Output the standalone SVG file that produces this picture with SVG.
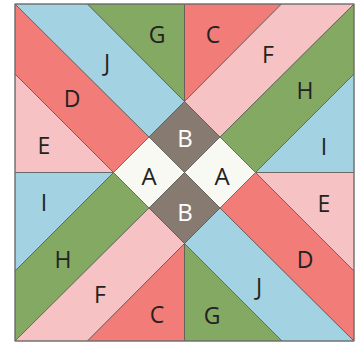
<svg xmlns="http://www.w3.org/2000/svg" width="361" height="343" viewBox="0 0 361 343">
<style>
.p{stroke:#5a5a55;stroke-width:0.8;stroke-linejoin:round}
.bl{fill:#a3d2e2}.gr{fill:#84a962}.rd{fill:#f27c78}.pk{fill:#f7c2c4}.br{fill:#877b71}.wh{fill:#f9f9f4}
text{font-family:"Open Sans","Noto Sans",sans-serif;font-size:23px;text-anchor:middle;fill:#222}
.c{font-size:24px}
.w{fill:#ffffff}
</style>
<rect x="0" y="0" width="361" height="343" fill="#ffffff"/>
<g id="top-left">
<polygon id="E1" class="p pk" points="15,74 113.5,172.5 15,172.5"/>
<polygon id="D1" class="p rd" points="15,4 149,137 113.5,172.5 15,74"/>
<polygon id="J1" class="p bl" points="15,4 87.5,4 184.5,101.5 149,137"/>
<polygon id="G1" class="p gr" points="87.5,4 184.5,4 184.5,101.5"/>
</g>
<g id="top-right">
<polygon id="C1" class="p rd" points="184.5,4 281.5,4 184.5,101.5"/>
<polygon id="F1" class="p pk" points="281.5,4 354,4 220,137 184.5,101.5"/>
<polygon id="H1" class="p gr" points="354,4 354,74 255.5,172.5 220,137"/>
<polygon id="I1" class="p bl" points="354,74 354,172.5 255.5,172.5"/>
</g>
<g id="bottom-left">
<polygon id="I2" class="p bl" points="15,172.5 113.5,172.5 15,271"/>
<polygon id="H2" class="p gr" points="15,271 113.5,172.5 149,208 15,341"/>
<polygon id="F2" class="p pk" points="15,341 149,208 184.5,243.5 87.5,341"/>
<polygon id="C2" class="p rd" points="87.5,341 184.5,243.5 184.5,341"/>
</g>
<g id="bottom-right">
<polygon id="G2" class="p gr" points="184.5,243.5 184.5,341 282,341"/>
<polygon id="J2" class="p bl" points="184.5,243.5 220,208 354,341 282,341"/>
<polygon id="D2" class="p rd" points="220,208 255.5,172.5 354,271 354,341"/>
<polygon id="E2" class="p pk" points="255.5,172.5 354,172.5 354,271"/>
</g>
<g id="center">
<polygon id="B1" class="p br" points="184.5,101.5 220,137 184.5,172.5 149,137"/>
<polygon id="A1" class="p wh" points="149,137 184.5,172.5 149,208 113.5,172.5"/>
<polygon id="A2" class="p wh" points="220,137 255.5,172.5 220,208 184.5,172.5"/>
<polygon id="B2" class="p br" points="184.5,172.5 220,208 184.5,243.5 149,208"/>
</g>
<rect x="15" y="4" width="339" height="337" fill="none" stroke="#707070" stroke-width="1"/>
<g id="labels">
<text x="157" y="43">G</text>
<text x="107" y="71">J</text>
<text x="72" y="107">D</text>
<text x="44" y="154">E</text>
<text x="213" y="43">C</text>
<text x="268" y="63">F</text>
<text x="305" y="99">H</text>
<text x="324" y="155">I</text>
<text x="44" y="211">I</text>
<text x="63" y="268">H</text>
<text x="100" y="303">F</text>
<text x="157" y="323">C</text>
<text x="324" y="212">E</text>
<text x="305" y="268">D</text>
<text x="259" y="295">J</text>
<text x="212" y="324">G</text>
<text class="c w" x="185" y="147">B</text>
<text class="c" x="149" y="185">A</text>
<text class="c" x="222" y="185">A</text>
<text class="c w" x="185" y="221">B</text>
</g>
</svg>
